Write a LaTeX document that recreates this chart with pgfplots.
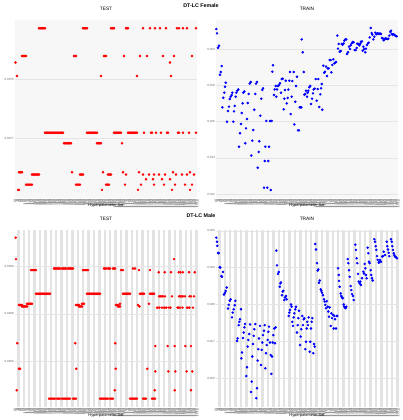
\documentclass[border=0pt]{standalone}
\usepackage{pgfplots}
\pgfplotsset{compat=1.18}
\usepackage{fontspec}
\setmainfont{Liberation Sans}
\begin{document}
\begin{tikzpicture}
\path[use as bounding box, fill=white] (0,0) rectangle (402pt,420pt);
\pgfplotsset{
 panel/.style={
  scale only axis, width=182pt, xmin=0, xmax=182,
  axis line style={draw=none},
  major tick length=0pt, minor tick length=0pt,
  scaled ticks=false,
  xtick={0,...,182},
  xticklabel style={font=\fontsize{1.4}{1.4}\selectfont, text=black!45, rotate=90, anchor=east, inner sep=0.4pt},
  yticklabel style={font=\fontsize{3}{3.5}\selectfont, text=black!60, inner sep=1pt},
  ymajorgrids, major grid style={black!10, line width=0.3pt},
  title style={font=\fontsize{4.8}{5.5}\selectfont, at={(axis description cs:0.5,1)}, anchor=center, yshift=5pt},
  xlabel={Hyperparameter Set},
  xlabel style={font=\fontsize{3.9}{4.5}\selectfont, at={(axis description cs:0.5,0)}, anchor=center, yshift=-8pt},
 },
 toppanel/.style={panel, height=178pt, axis background/.style={fill=black!3}},
 botpanel/.style={panel, height=177pt, minor xtick={3.3,8.7,...,181}, xminorgrids, minor grid style={black!11, line width=2.4pt}, xlabel style={yshift=-1pt}},
 pr/.style={only marks, mark=*, mark size=1.05pt, color=red},
 pb/.style={only marks, mark=*, mark size=1.05pt, color=blue},
}
\node[font=\bfseries\fontsize{5.3}{6}\selectfont] at (201pt,414pt) {DT-LC Female};
\node[font=\bfseries\fontsize{5.3}{6}\selectfont] at (201pt,204pt) {DT-LC Male};

% ---------------- Female TEST
\begin{axis}[toppanel, at={(15pt,222pt)}, anchor=south west, ymin=0.0075983, ymax=0.0079,
  ytick={0.0077,0.0078}, yticklabels={0.0077,0.0078}, title={TEST}]
\addplot[pr] coordinates {(24,0.007886)(25,0.007886)(26,0.007886)(27,0.007886)(28,0.007886)(29,0.007886)(30,0.007886)(68,0.007886)(69,0.007886)(70,0.007886)(71,0.007886)(72,0.007886)(96,0.007886)(97,0.007886)(98,0.007886)(99,0.007886)(111,0.007886)(112,0.007886)(113,0.007886)(128,0.007886)(135,0.007886)(140,0.007886)(145,0.007886)(151,0.007886)(162,0.007886)(164,0.007886)(168,0.007886)(172,0.007886)(181,0.007886)};
\addplot[pr] coordinates {(7,0.007839)(8,0.007839)(9,0.007839)(10,0.007839)(11,0.007839)(59,0.007839)(60,0.007839)(61,0.007839)(89,0.007839)(90,0.007839)(91,0.007839)(109,0.007839)(125,0.007839)(132,0.007839)(148,0.007839)(159,0.007839)(177,0.007839)};
\addplot[pr] coordinates {(0.5,0.007828)(155,0.007828)};
\addplot[pr] coordinates {(2,0.007805)(86,0.007805)(122,0.007805)(156,0.007805)};
\addplot[pr] coordinates {(30,0.007709)(31,0.007709)(32,0.007709)(33,0.007709)(34,0.007709)(35,0.007709)(36,0.007709)(37,0.007709)(38,0.007709)(39,0.007709)(40,0.007709)(41,0.007709)(42,0.007709)(43,0.007709)(44,0.007709)(45,0.007709)(46,0.007709)(47,0.007709)(48,0.007709)(72,0.007709)(73,0.007709)(74,0.007709)(75,0.007709)(76,0.007709)(77,0.007709)(78,0.007709)(79,0.007709)(80,0.007709)(81,0.007709)(82,0.007709)(99,0.007709)(100,0.007709)(101,0.007709)(102,0.007709)(103,0.007709)(104,0.007709)(105,0.007709)(106,0.007709)(113,0.007709)(114,0.007709)(115,0.007709)(116,0.007709)(117,0.007709)(118,0.007709)(119,0.007709)(120,0.007709)(121,0.007709)(122,0.007709)(129,0.007709)(136,0.007709)(137,0.007709)(141,0.007709)(146,0.007709)(152,0.007709)(153,0.007709)(163,0.007709)(164,0.007709)(168,0.007709)(174,0.007709)(181,0.007709)};
\addplot[pr] coordinates {(49,0.007691)(50,0.007691)(51,0.007691)(52,0.007691)(53,0.007691)(54,0.007691)(55,0.007691)(56,0.007691)(82,0.007691)(83,0.007691)(84,0.007691)(85,0.007691)(86,0.007691)(107,0.007691)};
\addplot[pr] coordinates {(4,0.007642)(5,0.007642)(6,0.007642)(7,0.007642)(57,0.007642)(88,0.007642)(108,0.007642)(124,0.007642)(158,0.007642)(175,0.007642)};
\addplot[pr] coordinates {(17,0.007638)(18,0.007638)(19,0.007638)(20,0.007638)(21,0.007638)(22,0.007638)(23,0.007638)(24,0.007638)(65,0.007638)(66,0.007638)(67,0.007638)(68,0.007638)(93,0.007638)(94,0.007638)(95,0.007638)(96,0.007638)(111,0.007638)(128,0.007638)(134,0.007638)(139,0.007638)(144,0.007638)(150,0.007638)(161,0.007638)(167,0.007638)(172,0.007638)(179,0.007638)};
\addplot[pr] coordinates {(131,0.007630)(138,0.007630)(147,0.007630)(155,0.007630)};
\addplot[pr] coordinates {(11,0.007621)(12,0.007621)(13,0.007621)(14,0.007621)(15,0.007621)(16,0.007621)(17,0.007621)(61,0.007621)(62,0.007621)(63,0.007621)(64,0.007621)(65,0.007621)(91,0.007621)(92,0.007621)(93,0.007621)(94,0.007621)(110,0.007621)(126,0.007621)(139,0.007621)(149,0.007621)(160,0.007621)(170,0.007621)(177,0.007621)};
\addplot[pr] coordinates {(3,0.007612)(4,0.007612)(87,0.007612)(123,0.007612)(157,0.007612)(175,0.007612)};
\end{axis}

% ---------------- Female TRAIN
\begin{axis}[toppanel, at={(216pt,222pt)}, anchor=south west, ymin=0.01178, ymax=0.0216,
  ytick={0.012,0.014,0.016,0.018,0.020}, yticklabels={0.012,0.014,0.016,0.018,0.020}, title={TRAIN}]
\addplot[pb] coordinates {(0.3,0.02110)(1,0.02086)(2,0.02007)(3,0.02018)(4,0.01858)(4.7,0.01873)(5.7,0.01906)(6.3,0.01678)(7.3,0.01731)(8.3,0.01759)(9,0.01792)(9.7,0.01814)(11,0.01599)(12,0.01658)(13,0.01682)(13.7,0.01724)(14.7,0.01737)(15.7,0.01746)(16.3,0.01759)(17.3,0.01599)(18,0.01656)(18.7,0.01686)(19.7,0.01737)(20.3,0.01759)(21.3,0.01770)(22.3,0.01777)(23,0.01461)(24,0.01535)(25,0.01586)(25.7,0.01647)(26.7,0.01700)(27.3,0.01759)(28.3,0.01766)(29.3,0.01480)(30,0.01562)(31,0.01614)(31.7,0.01702)(32.7,0.01752)(33.7,0.01809)(34.7,0.01818)(35.3,0.01412)(36.3,0.01494)(37.3,0.01553)(38.3,0.01665)(39.3,0.01752)(40,0.01809)(41,0.01818)(41.7,0.01345)(42.7,0.01432)(43.3,0.01491)(44.3,0.01632)(45.3,0.01726)(46.3,0.01774)(47,0.01783)(48,0.01235)(48.7,0.01382)(49.3,0.01461)(50.3,0.01603)(51.3,0.01235)(52.3,0.01382)(53,0.01461)(54,0.01603)(54.7,0.01222)(55.7,0.01603)(56.3,0.01875)(57,0.01910)(58,0.01746)(58.7,0.01777)(59.7,0.01796)(60.3,0.01737)(61,0.01777)(62,0.01796)(63,0.01801)(64,0.01811)(65,0.01759)(65.7,0.01834)(66.7,0.01836)(67.7,0.01667)(68.3,0.01726)(69,0.01774)(69.7,0.01825)(70.7,0.01700)(71.7,0.01730)(72.3,0.01776)(73.3,0.01825)(74,0.01873)(74.7,0.01641)(75.7,0.01737)(76.3,0.01823)(77.7,0.01873)(78.3,0.01584)(79.3,0.01709)(80,0.01796)(81,0.01847)(82,0.01551)(83,0.01551)(83.7,0.01678)(84.7,0.01678)(85.3,0.01678)(85.7,0.02053)(86.7,0.01982)(87.7,0.01873)(88.3,0.01748)(89.3,0.01752)(90,0.01770)(91,0.01737)(91.7,0.01759)(92.3,0.01770)(93.3,0.01789)(94.3,0.01796)(95,0.01697)(96,0.01726)(97,0.01755)(97.7,0.01777)(98.7,0.01781)(99.7,0.01834)(100.7,0.01715)(101.7,0.01779)(102.3,0.01834)(103.3,0.01680)(104.3,0.01750)(105,0.01783)(105.7,0.01807)(106.3,0.01665)(107.3,0.01908)(108.3,0.01869)(109,0.01875)(110,0.01903)(111,0.01851)(111.7,0.01893)(112.7,0.01893)(113.7,0.01939)(114.7,0.01939)(115.3,0.01871)(116.3,0.01912)(117.3,0.01943)(118.3,0.01921)(119.3,0.01925)(120,0.01928)(121.3,0.02074)(122,0.02002)(122.7,0.02028)(123.7,0.01985)(124.7,0.01989)(125.7,0.02028)(126.7,0.02024)(127.7,0.02031)(128.3,0.02046)(129.3,0.02053)(130.3,0.02053)(131,0.01972)(132,0.01982)(133,0.02013)(134,0.02000)(134.7,0.02020)(135.7,0.02031)(136.7,0.02039)(137.7,0.02037)(138.7,0.01994)(139.7,0.01994)(140.7,0.02006)(141.3,0.02029)(142.3,0.02028)(143.3,0.02020)(144.3,0.02029)(145,0.02040)(146,0.02042)(146.7,0.01991)(147.3,0.02013)(148.3,0.02000)(149.3,0.01982)(150,0.02002)(151,0.02022)(152,0.02031)(152.7,0.02035)(153.7,0.02064)(154.7,0.02116)(155.7,0.02088)(156.3,0.02079)(157.3,0.02053)(158.3,0.02068)(159.3,0.02090)(160.3,0.02081)(161.3,0.02086)(162,0.02086)(163,0.02083)(164,0.02086)(165,0.02083)(166,0.02061)(166.7,0.02059)(167.7,0.02048)(168.7,0.02053)(169.3,0.02059)(170.3,0.02057)(171.3,0.02055)(172.3,0.02057)(173.3,0.02074)(174.3,0.02094)(175,0.02101)(175.7,0.02083)(176.7,0.02079)(177.7,0.02081)(178.7,0.02077)(179.7,0.02072)(180.7,0.02070)};
\end{axis}

% ---------------- Male TEST
\begin{axis}[botpanel, at={(15pt,13pt)}, anchor=south west, ymin=0.02941, ymax=0.030151,
  ytick={0.0296,0.0298,0.0300}, yticklabels={0.0296,0.0298,0.0300}, title={TEST}]
\addplot[pr] coordinates {(0.7,0.030119)(1,0.030029)(159,0.030029)};
\addplot[pr] coordinates {(39,0.029990)(40,0.029990)(41,0.029990)(42,0.029990)(43,0.029990)(44,0.029990)(45,0.029990)(47,0.029990)(48,0.029990)(49,0.029990)(50,0.029990)(51,0.029990)(53,0.029990)(54,0.029990)(55,0.029990)(56,0.029990)(57,0.029990)(58,0.029990)(89,0.029990)(90,0.029990)(91,0.029990)(93,0.029990)(94,0.029990)(95,0.029990)(98,0.029990)(99,0.029990)(100,0.029990)(118,0.029990)(120,0.029990)};
\addplot[pr] coordinates {(16,0.029983)(17,0.029983)(18,0.029983)(19,0.029983)(20,0.029983)(21,0.029983)(68,0.029983)(69,0.029983)(70,0.029983)(71,0.029983)(72,0.029983)(73,0.029983)(106,0.029983)(107,0.029983)(108,0.029983)(124,0.029983)(135,0.029983)};
\addplot[pr] coordinates {(143.7,0.029974)(149.7,0.029974)(156,0.029974)(163.7,0.029974)(165.3,0.029974)(167.7,0.029974)(174,0.029974)(179.7,0.029974)};
\addplot[pr] coordinates {(21,0.029884)(22,0.029884)(23,0.029884)(24,0.029884)(25,0.029884)(26,0.029884)(27,0.029884)(28,0.029884)(29,0.029884)(30,0.029884)(31,0.029884)(32,0.029884)(33,0.029884)(34,0.029884)(35,0.029884)(72,0.029884)(73,0.029884)(74,0.029884)(75,0.029884)(76,0.029884)(77,0.029884)(78,0.029884)(79,0.029884)(80,0.029884)(81,0.029884)(82,0.029884)(83,0.029884)(84,0.029884)(85,0.029884)(108,0.029884)(109,0.029884)(110,0.029884)(111,0.029884)(112,0.029884)(113,0.029884)(114,0.029884)(115,0.029884)(125,0.029884)(126,0.029884)(127,0.029884)(128,0.029884)(129,0.029884)(135,0.029884)(136,0.029884)(137,0.029884)(138,0.029884)(139,0.029884)};
\addplot[pr] coordinates {(144,0.029873)(145,0.029873)(146,0.029873)(147,0.029873)(148,0.029873)(150,0.029873)(157,0.029873)(164,0.029873)(165,0.029873)(166,0.029873)(167,0.029873)(168,0.029873)(170,0.029873)(174.5,0.029873)(176,0.029873)(179,0.029873)};
\addplot[pr] coordinates {(12,0.029842)(13,0.029842)(14,0.029842)(15,0.029842)(16,0.029842)(17,0.029842)(67,0.029842)(68,0.029842)(69,0.029842)(105,0.029842)(134,0.029842)};
\addplot[pr] coordinates {(4,0.029837)(5,0.029837)(6,0.029837)(7,0.029837)(61,0.029837)(62,0.029837)(63,0.029837)(64,0.029837)(101,0.029837)(102,0.029837)(103,0.029837)(123,0.029837)};
\addplot[pr] coordinates {(7,0.029831)(8,0.029831)(9,0.029831)(10,0.029831)(11,0.029831)(12,0.029831)(64,0.029831)(65,0.029831)(66,0.029831)(67,0.029831)(103,0.029831)(104,0.029831)(105,0.029831)(124.5,0.029831)};
\addplot[pr] coordinates {(142,0.029826)(143,0.029826)(144.5,0.029826)(147,0.029826)(149,0.029826)(150,0.029826)(151.5,0.029826)(154,0.029826)(155.5,0.029826)(162.5,0.029826)(163.5,0.029826)(165,0.029826)(167.5,0.029826)(172,0.029826)(173,0.029826)(174.5,0.029826)(178,0.029826)};
\addplot[pr] coordinates {(2.3,0.029677)(60.3,0.029677)(100.3,0.029677)};
\addplot[pr] coordinates {(140.3,0.029665)(152.7,0.029665)(159.7,0.029665)(170.3,0.029665)(176,0.029665)};
\addplot[pr] coordinates {(4,0.029570)(5,0.029570)(61.3,0.029570)(100.7,0.029570)(132.3,0.029570)};
\addplot[pr] coordinates {(140.3,0.029559)(153.3,0.029559)(160.3,0.029559)(171.7,0.029559)(177.3,0.029559)};
\addplot[pr] coordinates {(1.7,0.029480)(99.7,0.029480)(139.7,0.029480)(159.7,0.029480)(176,0.029480)};
\addplot[pr] coordinates {(34,0.029445)(35,0.029445)(36,0.029445)(37,0.029445)(38,0.029445)(39,0.029445)(40,0.029445)(42,0.029445)(43,0.029445)(44,0.029445)(45,0.029445)(47,0.029445)(48,0.029445)(49,0.029445)(50,0.029445)(51,0.029445)(52,0.029445)(53,0.029445)(54,0.029445)(55,0.029445)(58,0.029445)(59,0.029445)(60,0.029445)(61,0.029445)(85,0.029445)(86,0.029445)(87,0.029445)(88,0.029445)(89,0.029445)(90,0.029445)(91,0.029445)(92,0.029445)(93,0.029445)(95,0.029445)(96,0.029445)(97,0.029445)(98,0.029445)(115,0.029445)(116,0.029445)(117,0.029445)(118,0.029445)(119,0.029445)(120,0.029445)(121,0.029445)(122,0.029445)(128,0.029445)(129,0.029445)(130,0.029445)(131,0.029445)(137,0.029445)(138,0.029445)(139,0.029445)(140,0.029445)};
\end{axis}

% ---------------- Male TRAIN
\begin{axis}[botpanel, at={(216pt,13pt)}, anchor=south west, ymin=0.025222, ymax=0.030019,
  ytick={0.026,0.027,0.028,0.029,0.030}, yticklabels={0.026,0.027,0.028,0.029,0.030}, title={TRAIN}]
\addplot[pb] coordinates {(0.3,0.02981)(1,0.02970)(1.3,0.02959)(2,0.02940)(2.7,0.02939)(3.7,0.02901)(4.3,0.02900)(5.3,0.02877)(6,0.02875)(7,0.02888)(8,0.02827)(9,0.02832)(9.7,0.02837)(10.7,0.02846)(12,0.02789)(12.7,0.02799)(13.7,0.02810)(14.7,0.02814)(16,0.02765)(16.7,0.02778)(17.7,0.02787)(18.7,0.02798)(19.3,0.02810)(21,0.02701)(21.7,0.02708)(22.7,0.02744)(23.3,0.02753)(24,0.02760)(25,0.02787)(25.3,0.02654)(26,0.02670)(27,0.02709)(27.7,0.02724)(28.3,0.02738)(29,0.02747)(30.3,0.02606)(31,0.02630)(31.7,0.02686)(32.3,0.02704)(33.3,0.02720)(34,0.02746)(35,0.02563)(35.7,0.02591)(36.3,0.02659)(37,0.02693)(37.7,0.02715)(38.3,0.02733)(39.3,0.02747)(40.3,0.02546)(41,0.02573)(41.7,0.02648)(42.3,0.02679)(43,0.02708)(44,0.02742)(45,0.02636)(45.7,0.02677)(46.3,0.02697)(47,0.02717)(48,0.02729)(48.7,0.02744)(49.3,0.02627)(50,0.02668)(50.7,0.02690)(51.7,0.02704)(52.3,0.02726)(53,0.02740)(54,0.02697)(54.7,0.02663)(55.3,0.02612)(56,0.02659)(56.7,0.02697)(57.3,0.02717)(58.3,0.02735)(59,0.02695)(59.7,0.02738)
(60.3,0.02946)(61,0.02906)(62,0.02883)(62.7,0.02888)(63.7,0.02848)(64.3,0.02857)(65,0.02860)(66,0.02825)(66.7,0.02835)(67.3,0.02837)(68.3,0.02812)(69,0.02819)(70,0.02823)(70.7,0.02814)(72.7,0.02769)(73.3,0.02778)(74,0.02785)(75,0.02800)(75.7,0.02794)(76.3,0.02753)(77,0.02742)(77.7,0.02765)(78.3,0.02776)(79.3,0.02787)(80,0.02794)(81,0.02724)(81.7,0.02744)(82.3,0.02763)(83,0.02783)(84,0.02690)(84.7,0.02713)(85.3,0.02733)(86.3,0.02769)(87,0.02744)(87.7,0.02760)(88.3,0.02763)(89.3,0.02679)(90,0.02699)(90.7,0.02735)(91.3,0.02753)(92,0.02744)(92.7,0.02765)(93.7,0.02672)(94.3,0.02699)(95,0.02735)(95.7,0.02753)(96.3,0.02763)(97.3,0.02668)(98,0.02693)(98.7,0.02686)
(99.3,0.02964)(100,0.02949)(101,0.02912)(101.7,0.02892)(102.3,0.02895)(103,0.02859)(103.7,0.02865)(104.7,0.02841)(105.3,0.02837)(106,0.02832)(107,0.02825)(108,0.02814)(108.7,0.02808)(109.3,0.02799)(110,0.02790)(110.7,0.02809)(111.7,0.02794)(112.3,0.02781)(113,0.02767)(113.7,0.02792)(114.7,0.02742)(115.3,0.02776)(116,0.02763)(117,0.02772)(117.7,0.02735)(118.3,0.02769)(119,0.02760)(120,0.02735)(120.7,0.02769)(121.3,0.02769)
(122,0.02898)(122.7,0.02880)(123,0.02864)(123.7,0.02848)(124.7,0.02830)(125.3,0.02823)(126,0.02819)(126.7,0.02817)(127.7,0.02800)(128.3,0.02794)(129,0.02792)(129.7,0.02790)(130.3,0.02794)(131.7,0.02923)(132.3,0.02912)(133,0.02893)(133.7,0.02875)(134.7,0.02850)(135.3,0.02839)(136,0.02828)(137,0.02823)(137.7,0.02812)(139.3,0.02962)(140,0.02948)(140.7,0.02925)(141.3,0.02912)(142,0.02883)(142.7,0.02862)(143.7,0.02857)(144.3,0.02862)(145,0.02853)(146,0.02871)(147.3,0.02889)(148,0.02884)(148.7,0.02910)(149.3,0.02898)(150,0.02880)(150.7,0.02871)(151.7,0.02954)(152.3,0.02939)(153,0.02916)(153.7,0.02912)(154.7,0.02893)(155.3,0.02880)(156,0.02871)(156.7,0.02865)(158.3,0.02977)(159,0.02970)(159.7,0.02958)(160.3,0.02948)(161,0.02931)(161.7,0.02921)(162.7,0.02913)(163.3,0.02916)(164,0.02921)(165,0.02916)(166.3,0.02930)(167,0.02931)(167.7,0.02943)(169,0.02934)(170.7,0.02970)(171.3,0.02958)(172,0.02949)(172.7,0.02940)(173.3,0.02931)(175,0.02977)(175.7,0.02970)(176.3,0.02958)(177,0.02948)(177.7,0.02939)(178.3,0.02934)(179,0.02930)(180,0.02928)(181,0.02925)};
\end{axis}
\end{tikzpicture}
\end{document}
